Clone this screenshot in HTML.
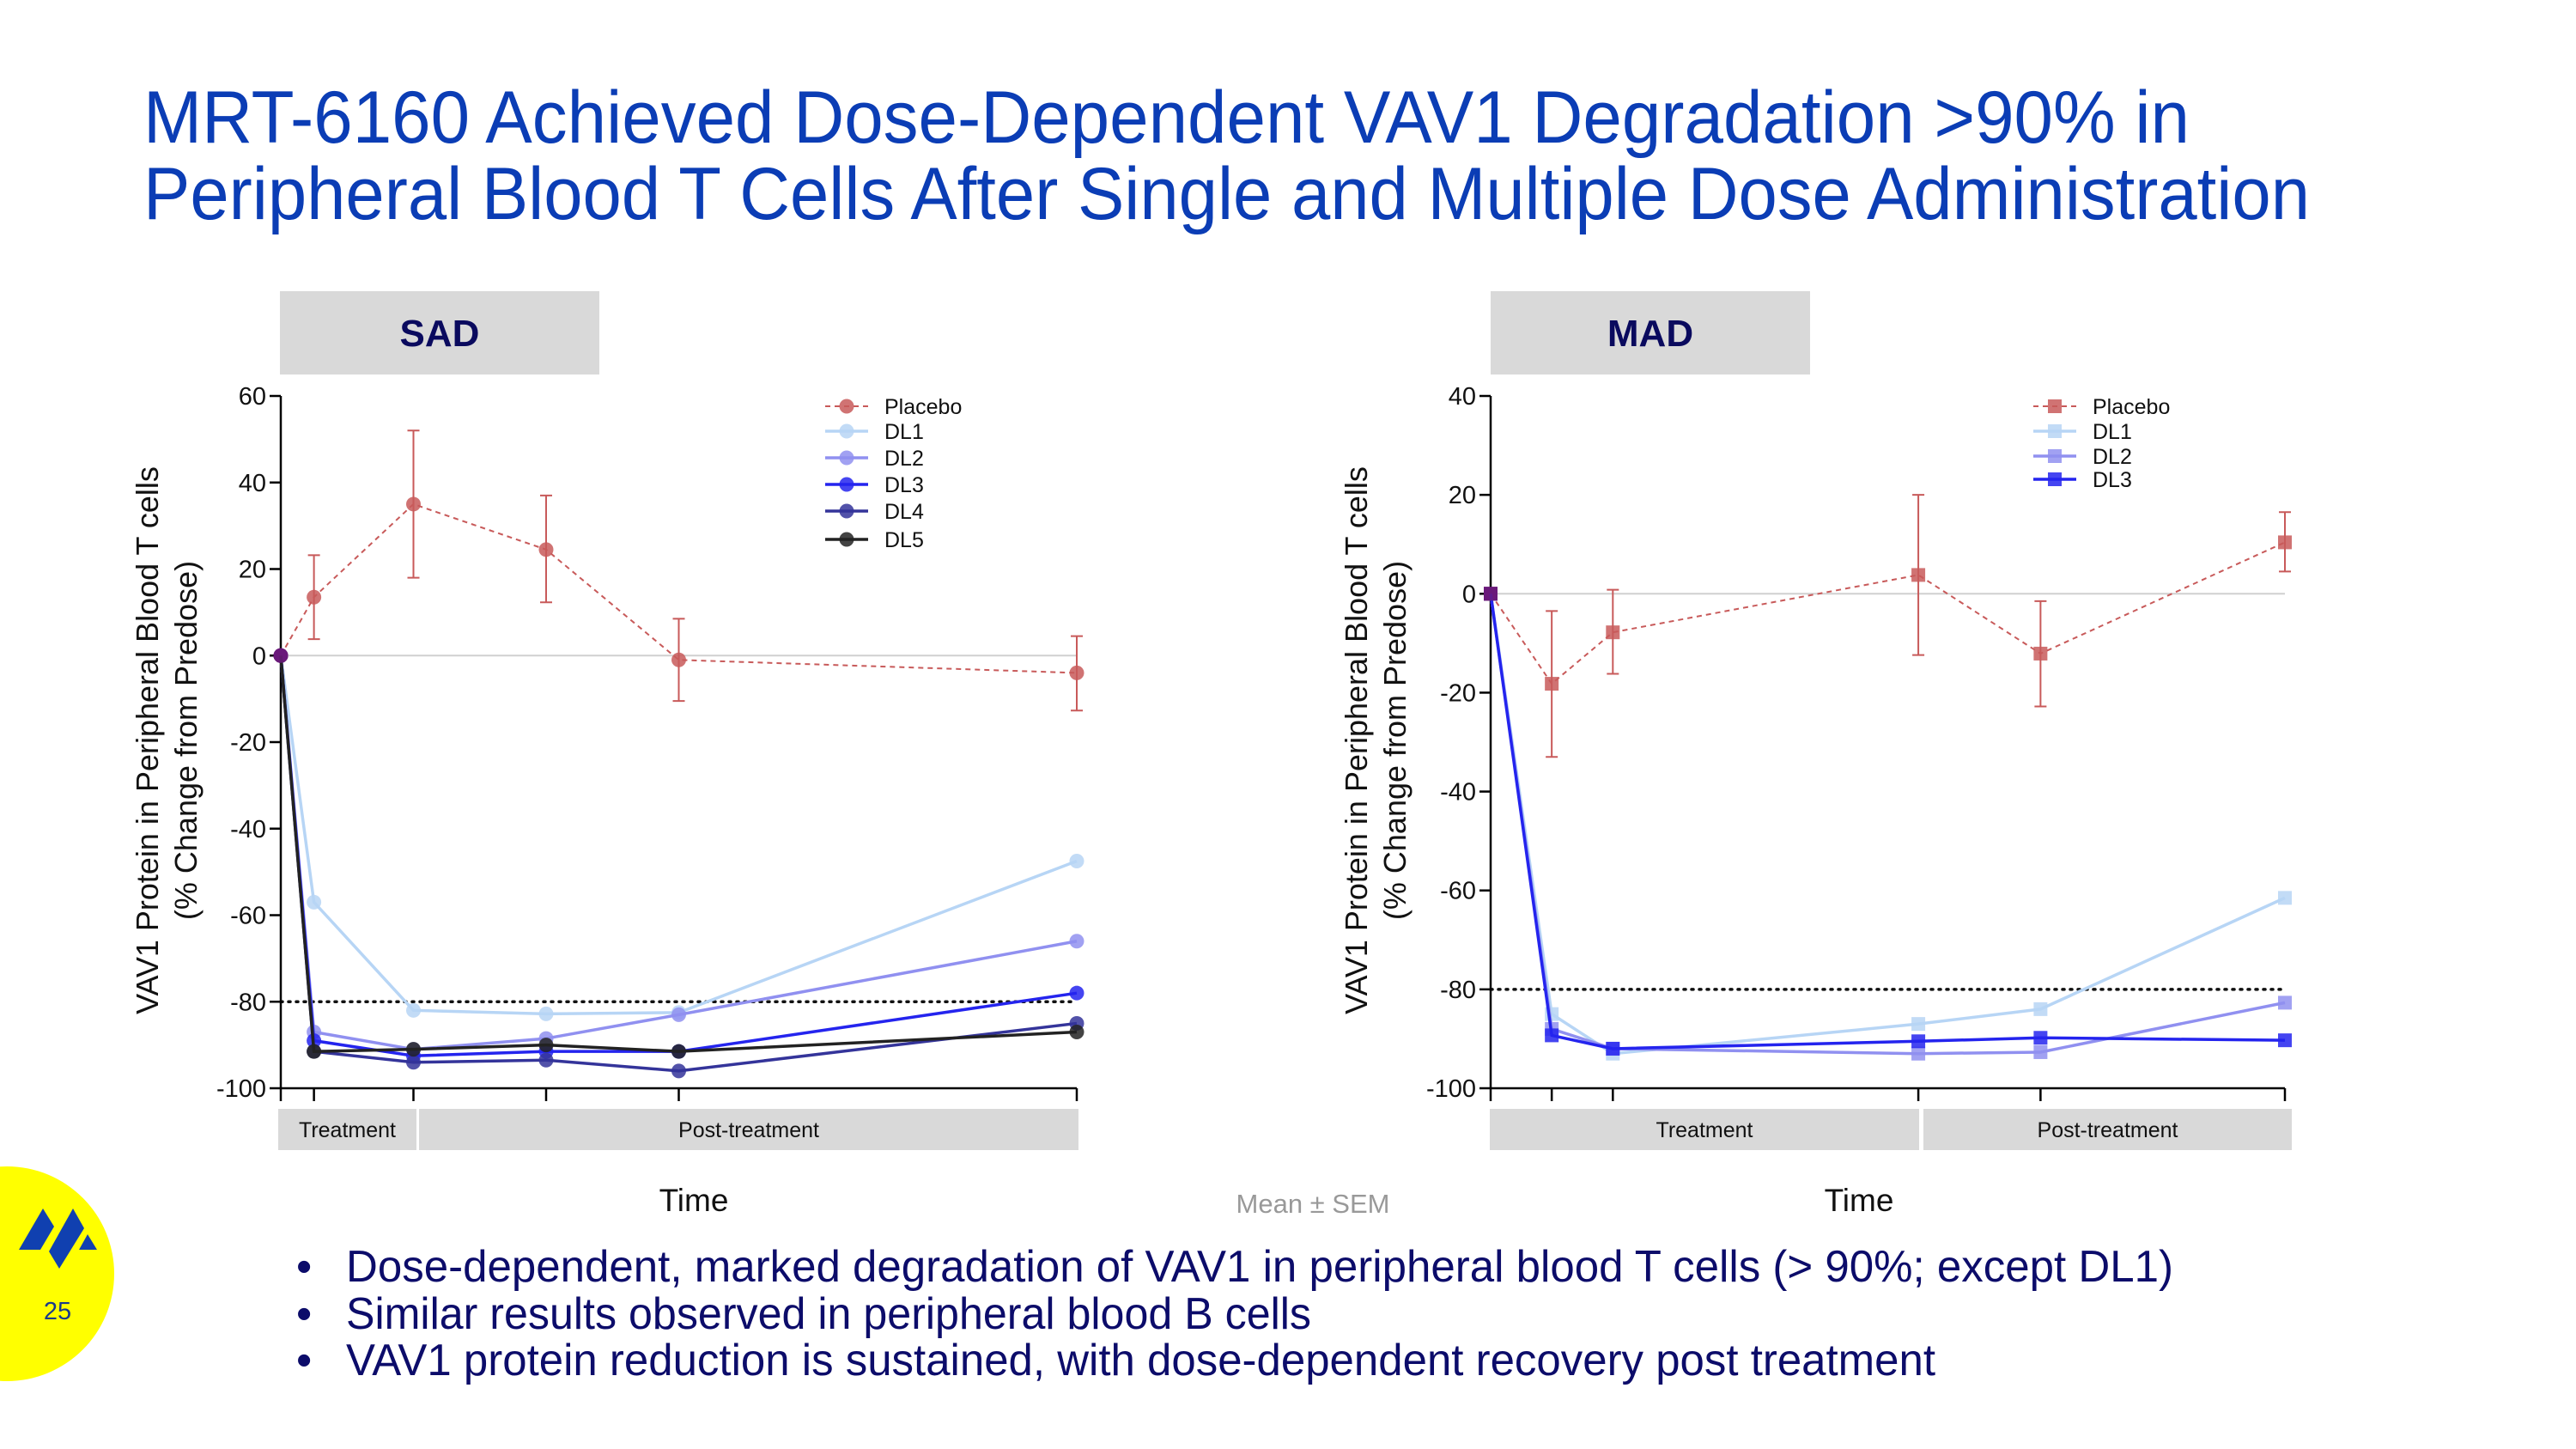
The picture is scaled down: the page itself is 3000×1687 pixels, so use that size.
<!DOCTYPE html>
<html><head><meta charset="utf-8"><style>
html,body{margin:0;padding:0;background:#fff;}
svg{display:block;font-family:"Liberation Sans",sans-serif;}
</style></head><body>
<svg id="slide" width="3000" height="1687" viewBox="0 0 3000 1687" xmlns="http://www.w3.org/2000/svg">
<rect width="3000" height="1687" fill="#fff"/>
<g fill="#0b3db5" font-size="86">
<text x="167" y="166" textLength="2383" lengthAdjust="spacingAndGlyphs">MRT-6160 Achieved Dose-Dependent VAV1 Degradation &gt;90% in</text>
<text x="167" y="255" textLength="2523" lengthAdjust="spacingAndGlyphs">Peripheral Blood T Cells After Single and Multiple Dose Administration</text>
</g>
<g>
<circle cx="8" cy="1483" r="125" fill="#ffff00"/>
<g fill="#1040b0">
<polygon points="22,1455 50,1407 63,1428 47,1455"/>
<polygon points="57,1457 85,1407 98,1430 69,1477"/>
<polygon points="92,1455 102,1437 113,1455"/>
</g>
<text x="67" y="1536" font-size="29" text-anchor="middle" fill="#1a3a8a">25</text>
</g>
<text x="1529" y="1412" font-size="31" fill="#999" text-anchor="middle">Mean ± SEM</text>
<g fill="#0c0c6a" font-size="52">
<text x="345" y="1492">•</text><text x="403" y="1492" textLength="2128" lengthAdjust="spacingAndGlyphs">Dose-dependent, marked degradation of VAV1 in peripheral blood T cells (&gt; 90%; except DL1)</text>
<text x="345" y="1547">•</text><text x="403" y="1547" textLength="1124" lengthAdjust="spacingAndGlyphs">Similar results observed in peripheral blood B cells</text>
<text x="345" y="1601">•</text><text x="403" y="1601" textLength="1851" lengthAdjust="spacingAndGlyphs">VAV1 protein reduction is sustained, with dose-dependent recovery post treatment</text>
</g>
<g id="sad"></g>
<g id="mad"></g>
</svg>
<script>
// SAD data
const sadTimes = [0, 1, 4, 8, 12, 24];
const sadPlacebo = [0, 13.5, 35, 24.5, -1, -4];
const sadPlaceboHi = [0, 23.2, 52, 37, 8.5, 4.5];
const sadPlaceboLo = [0, 3.8, 18, 12.3, -10.5, -12.7];
const sadDL1 = [0, -57, -82, -82.8, -82.5, -47.5];
const sadDL2 = [0, -87, -91, -88.5, -83, -66];
const sadDL3 = [0, -89, -92.5, -91.5, -91.5, -78];
const sadDL4 = [0, -91.5, -94, -93.5, -96, -85];
const sadDL5 = [0, -91.5, -91, -90, -91.5, -87];
const sadYTicks = [60, 40, 20, 0, -20, -40, -60, -80, -100];
// MAD data
const madTimes = [0, 2, 4, 14, 18, 26];
const madPlacebo = [0, -18.2, -7.8, 3.8, -12.1, 10.4];
const madPlaceboHi = [0, -3.5, 0.8, 20, -1.5, 16.5];
const madPlaceboLo = [0, -33, -16.2, -12.4, -22.8, 4.5];
const madDL1 = [0, -85, -93, -87, -84, -61.5];
const madDL2 = [0, -88, -92, -93, -92.7, -82.7];
const madDL3 = [0, -89.3, -92, -90.5, -89.8, -90.3];
const madYTicks = [40, 20, 0, -20, -40, -60, -80, -100];

const NS = "http://www.w3.org/2000/svg";
function mk(parent, tag, attrs, text) {
  const e = document.createElementNS(NS, tag);
  for (const k in attrs) e.setAttribute(k, attrs[k]);
  if (text !== undefined) e.textContent = text;
  parent.appendChild(e);
  return e;
}

function drawChart(g, cfg) {
  const sx = v => cfg.x0 + (v - cfg.tmin) / (cfg.tmax - cfg.tmin) * (cfg.x1 - cfg.x0);
  const sy = v => cfg.y0 + (cfg.ymax - v) / (cfg.ymax - cfg.ymin) * (cfg.y1 - cfg.y0);
  const hb = mk(g, 'rect', {x: cfg.hx, y: 339, width: 372, height: 97, fill: '#d9d9d9'});
  
  
  const ht = mk(g, 'text', {x: cfg.hx + 186, y: 403, 'font-size': 44, 'font-weight': 'bold', fill: '#0a0a5e', 'text-anchor': 'middle'}, cfg.title);
  
  
  const zl = mk(g, 'line', {x1: cfg.x0, x2: cfg.x1, y1: sy(0), y2: sy(0), stroke: '#d0d0d0', 'stroke-width': 2});
  
  
  const th = mk(g, 'line', {x1: cfg.x0, x2: cfg.x1, y1: sy(-80), y2: sy(-80), stroke: '#111', 'stroke-width': 3.5, 'stroke-dasharray': '2 7', 'stroke-linecap': 'round'});
  
  
  const ya = mk(g, 'line', {x1: cfg.x0, x2: cfg.x0, y1: sy(cfg.ymax), y2: sy(cfg.ymin), stroke: '#000', 'stroke-width': 2.5});
  
  
  const xa = mk(g, 'line', {x1: cfg.x0, x2: cfg.x1, y1: sy(cfg.ymin), y2: sy(cfg.ymin), stroke: '#000', 'stroke-width': 2.5});
  
  
  cfg.yticks.forEach(t => {
    const tl = mk(g, 'line', {x1: cfg.x0 - 13, x2: cfg.x0, y1: sy(t), y2: sy(t), stroke: '#000', 'stroke-width': 2.5});
    
    
    const tt = mk(g, 'text', {x: cfg.x0 - 17, y: sy(t) + 10, 'font-size': 29, 'text-anchor': 'end', fill: '#111'}, String(t));
    
    
  });
  cfg.times.forEach(t => {
    const tl = mk(g, 'line', {x1: sx(t), x2: sx(t), y1: sy(cfg.ymin), y2: sy(cfg.ymin) + 15, stroke: '#000', 'stroke-width': 2.5});
    
    
  });
  cfg.bands.forEach(b => {
    const r = mk(g, 'rect', {x: b[0], y: 1291, width: b[1] - b[0], height: 48, fill: '#d9d9d9'});
    
    
    const t = mk(g, 'text', {x: (b[0] + b[1]) / 2, y: 1324, 'font-size': 25, 'text-anchor': 'middle', fill: '#111'}, b[2]);
    
    
  });
  const at = mk(g, 'text', {transform: `translate(${cfg.ylx},${cfg.ylc}) rotate(-90)`, 'font-size': 36, 'text-anchor': 'middle', fill: '#111'});
  
  
  mk(at, 'tspan', {x: 0, y: 0}, 'VAV1 Protein in Peripheral Blood T cells');
  mk(at, 'tspan', {x: 0, y: 45}, '(% Change from Predose)');
  const xt = mk(g, 'text', {x: cfg.timeX, y: 1410, 'font-size': 37, 'text-anchor': 'middle', fill: '#111'}, 'Time');
  
  
  const marker = (pg, x, y, color, op) => {
    let m;
    if (cfg.square) m = mk(pg, 'rect', {x: x - 8, y: y - 8, width: 16, height: 16, fill: color, 'fill-opacity': op});
    else m = mk(pg, 'circle', {cx: x, cy: y, r: 8.5, fill: color, 'fill-opacity': op});
    return m;
  };
  cfg.series.forEach((s, si) => {
    const sg = mk(g, 'g', {});
    
    
    if (s.hi) {
      s.vals.forEach((v, i) => {
        if (i === 0) return;
        const x = sx(cfg.times[i]);
        const eb = mk(sg, 'path', {d: `M${x},${sy(s.hi[i])}V${sy(s.lo[i])}M${x-7},${sy(s.hi[i])}H${x+7}M${x-7},${sy(s.lo[i])}H${x+7}`, stroke: s.color, 'stroke-width': 2, fill: 'none'});
        
        
      });
    }
    const d = s.vals.map((v, i) => (i ? 'L' : 'M') + sx(cfg.times[i]) + ',' + sy(v)).join('');
    const ln = mk(sg, 'path', {d: d, fill: 'none', stroke: s.color, 'stroke-width': s.dash ? 2 : 3.5, 'stroke-dasharray': s.dash ? '6 5' : 'none'});
    
    
    s.vals.forEach((v, i) => {
      const m = marker(sg, sx(cfg.times[i]), sy(v), i === 0 ? '#6a1a7a' : s.color, 0.85);
      
      
    });
    const ly = cfg.legY[si];
    const le = mk(g, 'g', {});
    
    
    mk(le, 'line', {x1: cfg.legX - 25, x2: cfg.legX + 25, y1: ly, y2: ly, stroke: s.color, 'stroke-width': s.dash ? 2 : 3.5, 'stroke-dasharray': s.dash ? '6 5' : 'none'});
    marker(le, cfg.legX, ly, s.color, 0.85);
    mk(le, 'text', {x: cfg.legX + 44, y: ly + 9, 'font-size': 25, fill: '#111'}, s.name);
  });
}

drawChart(document.getElementById('sad'), {
  title: 'SAD', hx: 326, x0: 327, x1: 1254, tmin: 0, tmax: 24, y0: 461, y1: 1267, ymax: 60, ymin: -100,
  times: sadTimes, yticks: sadYTicks, square: false,
  bands: [[324, 485, 'Treatment'], [488, 1256, 'Post-treatment']],
  ylx: 184, ylc: 862, timeX: 808, legX: 986, legY: [473, 502, 533, 564, 595, 628],
  series: [
    {name: 'Placebo', vals: sadPlacebo, hi: sadPlaceboHi, lo: sadPlaceboLo, color: '#c85a5a', dash: true},
    {name: 'DL1', vals: sadDL1, color: '#b7d5f5'},
    {name: 'DL2', vals: sadDL2, color: '#9090f0'},
    {name: 'DL3', vals: sadDL3, color: '#2424ee'},
    {name: 'DL4', vals: sadDL4, color: '#34349a'},
    {name: 'DL5', vals: sadDL5, color: '#222222'}
  ]
});
drawChart(document.getElementById('mad'), {
  title: 'MAD', hx: 1736, x0: 1736, x1: 2661, tmin: 0, tmax: 26, y0: 461, y1: 1267, ymax: 40, ymin: -100,
  times: madTimes, yticks: madYTicks, square: true,
  bands: [[1735, 2235, 'Treatment'], [2240, 2669, 'Post-treatment']],
  ylx: 1592, ylc: 862, timeX: 2165, legX: 2393, legY: [473, 502, 531, 558],
  series: [
    {name: 'Placebo', vals: madPlacebo, hi: madPlaceboHi, lo: madPlaceboLo, color: '#c85a5a', dash: true},
    {name: 'DL1', vals: madDL1, color: '#b7d5f5'},
    {name: 'DL2', vals: madDL2, color: '#9090f0'},
    {name: 'DL3', vals: madDL3, color: '#2424ee'}
  ]
});
</script>
</body></html>
